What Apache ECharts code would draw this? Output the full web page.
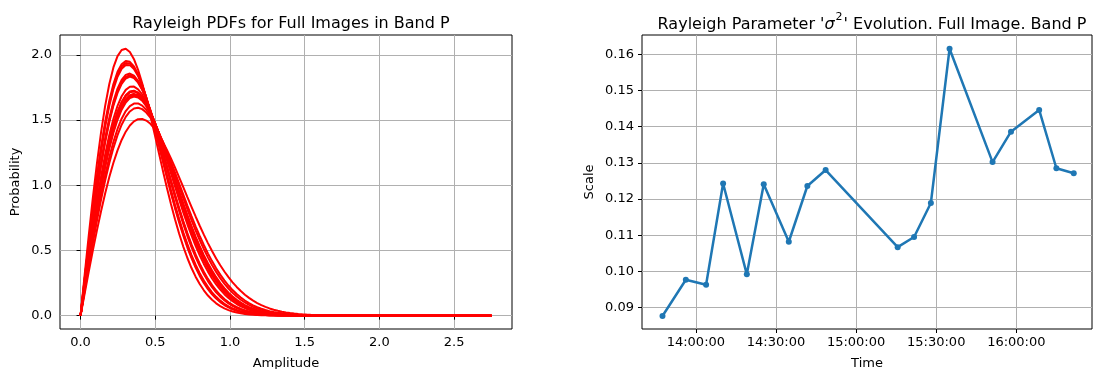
<!DOCTYPE html>
<html>
<head>
<meta charset="utf-8">
<script src="https://cdn.jsdelivr.net/npm/echarts@6/dist/echarts.min.js"></script>
<style>
html,body{margin:0;padding:0;background:#fff;}
#chart{width:1093px;height:369px;}
</style>
</head>
<body>
<div id="chart"></div>
<script>
// Observation times (HH:MM:SS) and fitted Rayleigh parameter sigma^2
const times = ["13:47:30","13:56:15","14:03:50","14:10:12","14:19:05","14:25:25","14:34:48","14:41:45","14:48:36",
               "15:15:34","15:21:43","15:28:00","15:35:00","15:51:06","15:58:00","16:08:33","16:15:00","16:21:30"];
const scaleValues = [0.0877,0.0977,0.0963,0.1243,0.0992,0.1241,0.1082,0.1236,0.1280,
                     0.1067,0.1095,0.1189,0.1615,0.1302,0.1386,0.1446,0.1285,0.1271];
const timeTicks = ["14:00:00","14:30:00","15:00:00","15:30:00","16:00:00"];
const ampTicks = [0.0,0.5,1.0,1.5,2.0,2.5];
const probTicks = [0.0,0.5,1.0,1.5,2.0];
const scaleTicks = [0.09,0.10,0.11,0.12,0.13,0.14,0.15,0.16];
const ampMax = 2.75;
const nSamples = 100;

function toMin(t){const p=t.split(':').map(Number);return p[0]*60+p[1]+p[2]/60;}
function fmtMin(m){m=Math.round(m*60);const h=Math.floor(m/3600),mi=Math.floor((m%3600)/60),s=m%60;
  const z=v=>String(v).padStart(2,'0');return z(h)+':'+z(mi)+':'+z(s);}

// Rayleigh PDF curves built from each fitted sigma^2
const pdfSeries = scaleValues.map(s2=>{
  const pts=[];
  for(let i=0;i<=nSamples;i++){const x=ampMax*i/nSamples;pts.push([x, x/s2*Math.exp(-x*x/(2*s2))]);}
  return {type:'line',xAxisIndex:0,yAxisIndex:0,data:pts,showSymbol:false,smooth:false,
          lineStyle:{color:'#ff0000',width:2},itemStyle:{color:'#ff0000'},animation:false,silent:true};
});

const FONT='DejaVu Sans';
const tickFont={fontFamily:FONT,fontSize:13,color:'#000'};
const nameFont={fontFamily:FONT,fontSize:13,color:'#000'};
const gridLine={show:true,lineStyle:{color:'#b0b0b0',width:1}};
const tick={show:true,length:4,lineStyle:{color:'#000'}};
const chart=echarts.init(document.getElementById('chart'),null,{renderer:'canvas'});
chart.setOption({
  animation:false,
  title:[
    {text:'Rayleigh PDFs for Full Images in Band P',left:286,top:11,textAlign:'center',
     textStyle:{fontFamily:FONT,fontSize:16,fontWeight:'normal',color:'#000'}},
    {text:"{t|Rayleigh Parameter '}{s|σ}{sup|2}{t|' Evolution. Full Image. Band P}",left:867,top:7,textAlign:'center',
     textStyle:{fontFamily:FONT,fontSize:16,fontWeight:'normal',color:'#000',
       rich:{
         t:{fontFamily:FONT,fontSize:16,color:'#000',lineHeight:22,verticalAlign:'bottom',padding:[0,0,1,0]},
         s:{fontFamily:FONT,fontSize:16,fontStyle:'italic',color:'#000',lineHeight:22,verticalAlign:'bottom',padding:[0,0,1,0]},
         sup:{fontFamily:FONT,fontSize:11,color:'#000',lineHeight:12,verticalAlign:'top',padding:[0,1,0,1]}
       }}}
  ],
  grid:[
    {left:60,top:35,width:452,height:294,outerBoundsMode:'none',containLabel:false,show:true,borderColor:'#000',borderWidth:1,backgroundColor:'transparent'},
    {left:642,top:35,width:450,height:294,outerBoundsMode:'none',containLabel:false,show:true,borderColor:'#000',borderWidth:1,backgroundColor:'transparent'}
  ],
  xAxis:[
    {type:'value',gridIndex:0,min:-0.1375,max:2.8875,splitNumber:5,
     name:'Amplitude',nameLocation:'middle',nameGap:28,nameTextStyle:nameFont,
     axisLine:{show:false},
     axisTick:Object.assign({customValues:ampTicks},tick),
     axisLabel:Object.assign({margin:7,customValues:ampTicks,formatter:v=>v.toFixed(1)},tickFont),
     splitLine:gridLine},
    {type:'value',gridIndex:1,min:toMin("13:39:50"),max:toMin("16:28:20"),splitNumber:5,
     name:'Time',nameLocation:'middle',nameGap:28,nameTextStyle:nameFont,
     axisLine:{show:false},
     axisTick:Object.assign({customValues:timeTicks.map(toMin)},tick),
     axisLabel:Object.assign({margin:7,customValues:timeTicks.map(toMin),formatter:v=>fmtMin(v)},tickFont),
     splitLine:gridLine}
  ],
  yAxis:[
    {type:'value',gridIndex:0,min:-0.1025,max:2.1525,splitNumber:5,
     name:'Probability',nameLocation:'middle',nameGap:38,nameRotate:90,nameTextStyle:nameFont,
     axisLine:{show:false},
     axisTick:Object.assign({customValues:probTicks},tick),
     axisLabel:Object.assign({margin:8,customValues:probTicks,formatter:v=>v.toFixed(1)},tickFont),
     splitLine:gridLine},
    {type:'value',gridIndex:1,min:0.0841,max:0.1653,splitNumber:8,
     name:'Scale',nameLocation:'middle',nameGap:46,nameRotate:90,nameTextStyle:nameFont,
     axisLine:{show:false},
     axisTick:Object.assign({customValues:scaleTicks},tick),
     axisLabel:Object.assign({margin:8,customValues:scaleTicks,formatter:v=>v.toFixed(2)},tickFont),
     splitLine:gridLine}
  ],
  series:pdfSeries.concat([
    {type:'line',xAxisIndex:1,yAxisIndex:1,data:times.map((t,i)=>[toMin(t),scaleValues[i]]),
     symbol:'circle',symbolSize:6,showSymbol:true,
     lineStyle:{color:'#1f77b4',width:2.5},itemStyle:{color:'#1f77b4'},animation:false}
  ])
});
</script>
</body>
</html>
